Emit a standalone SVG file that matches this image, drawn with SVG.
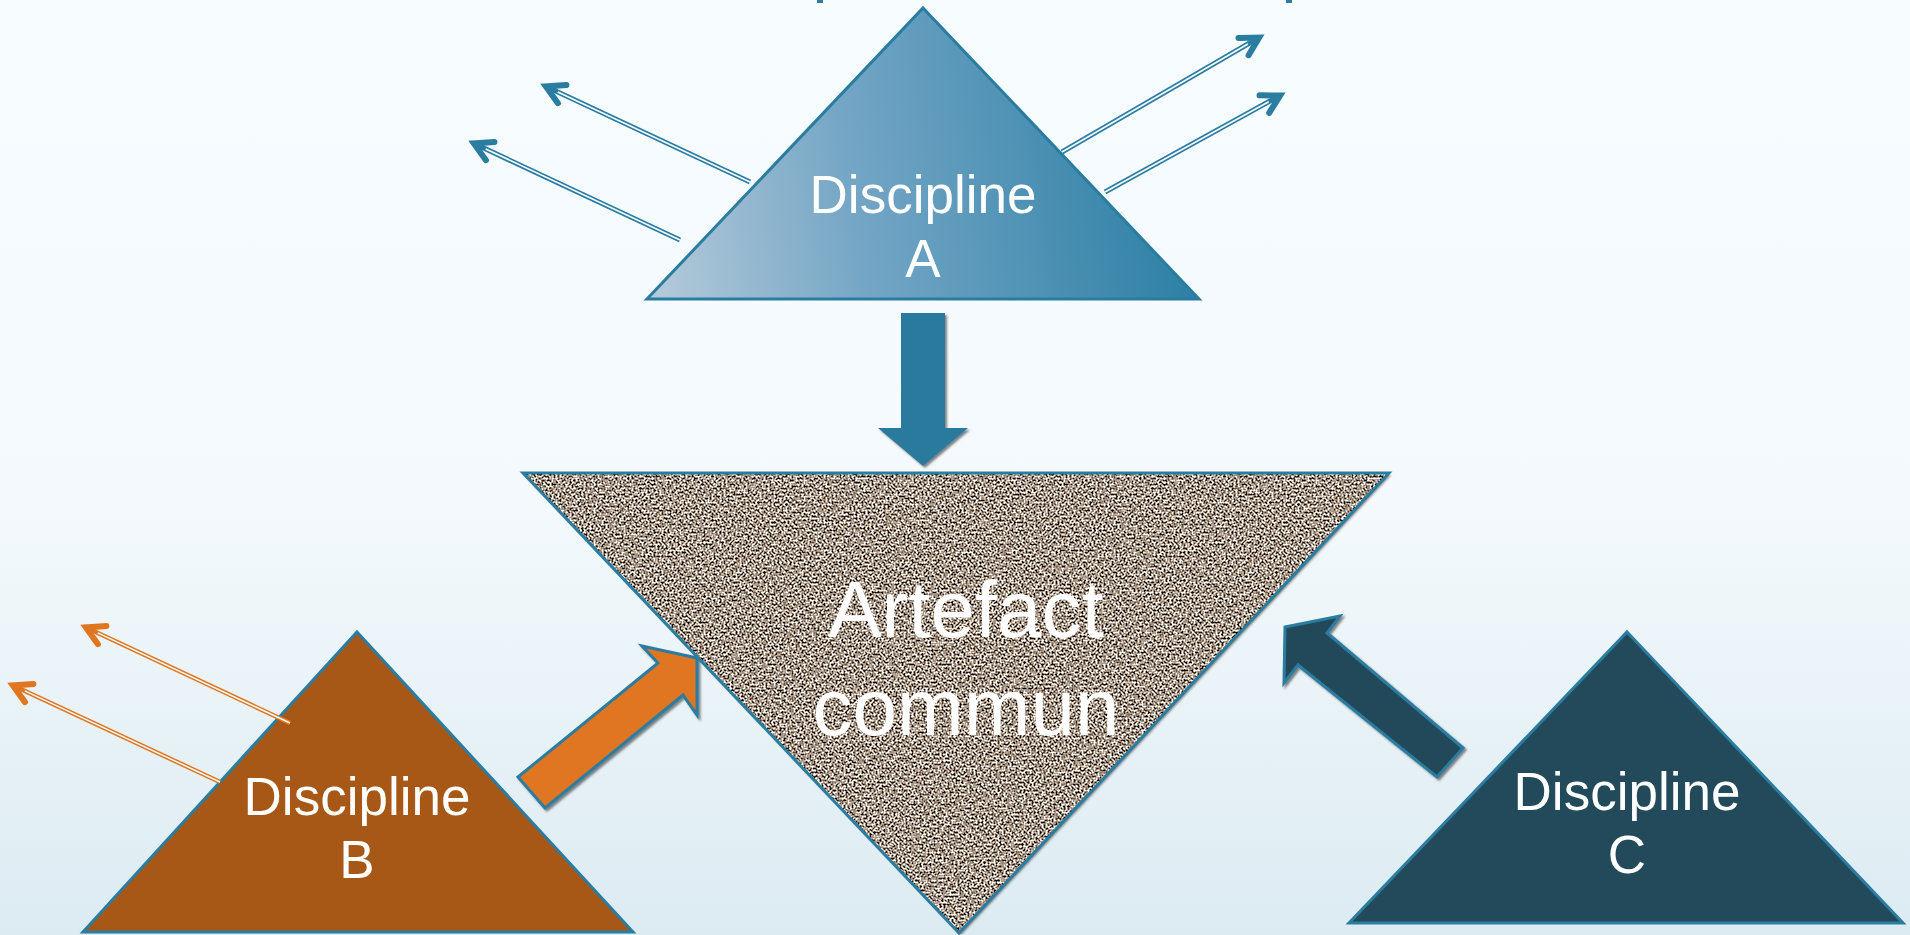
<svg xmlns="http://www.w3.org/2000/svg" width="1910" height="935" viewBox="0 0 1910 935">
  <defs>
    <linearGradient id="bg" x1="0" y1="0" x2="0" y2="1">
      <stop offset="0" stop-color="#f7fcff"/>
      <stop offset="0.55" stop-color="#f3f9fc"/>
      <stop offset="1" stop-color="#dcebf2"/>
    </linearGradient>
    <linearGradient id="gradA" gradientUnits="userSpaceOnUse" x1="647" y1="299" x2="1199" y2="220">
      <stop offset="0" stop-color="#b6cbda"/>
      <stop offset="0.4" stop-color="#73a5c5"/>
      <stop offset="1" stop-color="#2a7fa4"/>
    </linearGradient>
    <filter id="noise" x="0" y="0" width="100%" height="100%" color-interpolation-filters="sRGB">
      <feTurbulence type="fractalNoise" baseFrequency="0.5" numOctaves="2" seed="7"/>
      <feColorMatrix type="matrix" values="2.9 0 0 0 -0.8  2.9 0 0 0 -0.86  2.9 0 0 0 -0.92  0 0 0 0 1"/>
    </filter>
    <filter id="shadow" x="-10%" y="-10%" width="130%" height="130%">
      <feDropShadow dx="2" dy="2" stdDeviation="1" flood-color="#333333" flood-opacity="0.6"/>
    </filter>
    <clipPath id="clipArt">
      <polygon points="523,473 1389,473 959,933"/>
    </clipPath>
    <marker id="vBlue" markerUnits="userSpaceOnUse" viewBox="-30 -20 40 40" markerWidth="40" markerHeight="40" refX="-3" refY="0" orient="auto" overflow="visible">
      <path d="M-19,-10 L-1,0 L-19,10" fill="none" stroke="#2a7ca0" stroke-width="6" stroke-linecap="round" stroke-linejoin="miter"/>
    </marker>
    <marker id="vOrange" markerUnits="userSpaceOnUse" viewBox="-30 -20 40 40" markerWidth="40" markerHeight="40" refX="-3" refY="0" orient="auto" overflow="visible">
      <path d="M-19,-10 L-1,0 L-19,10" fill="none" stroke="#e07620" stroke-width="6" stroke-linecap="round" stroke-linejoin="miter"/>
    </marker>
    <style>
      .tri { stroke: #2a7ca0; stroke-width: 3; stroke-linejoin: miter; }
      .lbl { font-family: "Liberation Sans", Arial, sans-serif; fill: #ffffff; text-anchor: middle; }
      .lblD { font-size: 53px; }
      .lblArt { font-size: 80px; }
      .dblB { fill: none; stroke: #2a7ca0; stroke-width: 5; stroke-linecap: butt; }
      .dblO { fill: none; stroke: #e07620; stroke-width: 4.5; stroke-linecap: butt; }
      .gap { fill: none; stroke: #f6fbfe; stroke-width: 1.7; stroke-linecap: butt; }
      .fat { stroke: #2a7ca0; stroke-width: 3; stroke-linejoin: miter; filter: url(#shadow); }
    </style>
  </defs>

  <rect x="0" y="0" width="1910" height="935" fill="url(#bg)"/>
  <rect x="817" y="0" width="6" height="3" fill="#2a7ca0"/>
  <rect x="1286" y="0" width="6" height="3" fill="#2a7ca0"/>

  <g id="connectors">
    <g id="conn-A-out">
      <line class="dblB" x1="750" y1="182" x2="547.7" y2="87.3" marker-end="url(#vBlue)"/>
      <line class="gap" x1="750" y1="182" x2="557.7" y2="91.9"/>
      <line class="dblB" x1="680" y1="240" x2="475.7" y2="144.3" marker-end="url(#vBlue)"/>
      <line class="gap" x1="680" y1="240" x2="485.7" y2="148.9"/>
      <line class="dblB" x1="1062" y1="152" x2="1257.4" y2="38.5" marker-end="url(#vBlue)"/>
      <line class="gap" x1="1062" y1="152" x2="1247.9" y2="44"/>
      <line class="dblB" x1="1105" y1="192" x2="1278.4" y2="96.4" marker-end="url(#vBlue)"/>
      <line class="gap" x1="1105" y1="192" x2="1268.7" y2="101.8"/>
    </g>
    <polygon id="conn-A-art" points="901,313 945,313 945,428 968,428 923,466 878,428 901,428" fill="#2a7a9e" filter="url(#shadow)"/>
    <polygon id="conn-B-art" class="fat" points="518,777 658,663 642,646 697,658 697,715 683,695 545,808" fill="#e07620"/>
    <polygon id="conn-C-art" class="fat" points="1285,627 1340,616 1327,633 1463,748 1437,777 1298,665 1284,683" fill="#234a5a"/>
  </g>

  <g id="node-A">
    <polygon class="tri" points="923,8 1199,299 647,299" fill="url(#gradA)"/>
    <text class="lbl lblD" x="923" y="213">Discipline</text>
    <text class="lbl lblD" x="923" y="277">A</text>
  </g>

  <g id="node-artefact">
    <polygon points="523,473 1389,473 959,933" fill="#a89888" filter="url(#shadow)"/>
    <g clip-path="url(#clipArt)">
      <rect x="523" y="473" width="866" height="460" filter="url(#noise)"/>
    </g>
    <polygon class="tri" points="523,473 1389,473 959,933" fill="none"/>
    <text class="lbl lblArt" x="966" y="637">Artefact</text>
    <text class="lbl lblArt" x="966" y="735">commun</text>
  </g>

  <g id="node-B">
    <polygon class="tri" points="357,632 633,932 83,932" fill="#a85816"/>
    <text class="lbl lblD" x="357" y="815">Discipline</text>
    <text class="lbl lblD" x="357" y="878">B</text>
  </g>

  <g id="node-C">
    <polygon class="tri" points="1627,632 1903,923 1349,923" fill="#234a5a"/>
    <text class="lbl lblD" x="1627" y="810">Discipline</text>
    <text class="lbl lblD" x="1627" y="873">C</text>
  </g>

  <g id="connectors-B-out">
    <line class="dblO" x1="290" y1="723" x2="87.7" y2="628.3" marker-end="url(#vOrange)"/>
    <line class="gap" x1="290" y1="723" x2="97.7" y2="632.9" style="stroke-width:1.5"/>
    <line class="dblO" x1="220" y1="782" x2="14.7" y2="686.3" marker-end="url(#vOrange)"/>
    <line class="gap" x1="220" y1="782" x2="24.7" y2="690.9" style="stroke-width:1.5"/>
  </g>
</svg>
